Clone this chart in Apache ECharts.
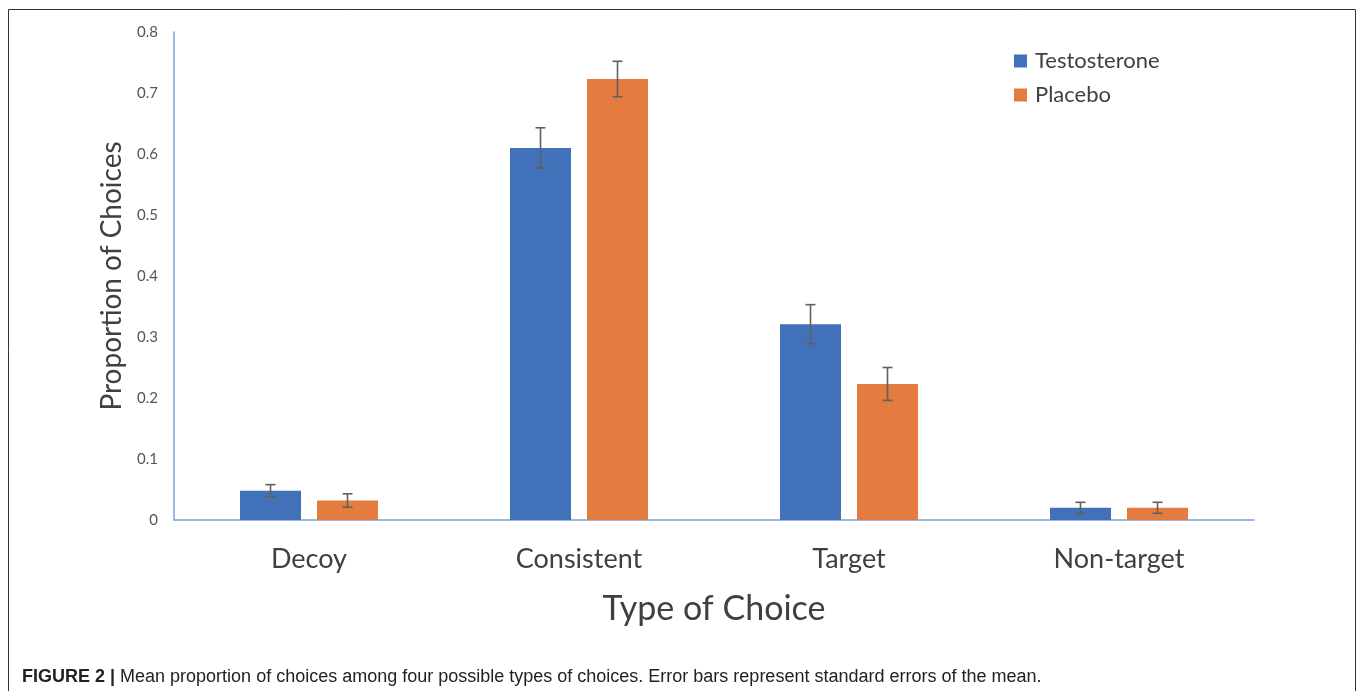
<!DOCTYPE html>
<html>
<head>
<meta charset="utf-8">
<script src="https://cdn.jsdelivr.net/npm/echarts@6/dist/echarts.min.js"></script>
<style>
  html, body { margin: 0; padding: 0; background: #fff; }
  #chart { width: 1360px; height: 691px; }
</style>
</head>
<body>
<div id="chart"></div>
<script>
// Choice types and group means with standard errors
const categories = ['Decoy', 'Consistent', 'Target', 'Non-target'];
const testosterone = [0.048, 0.610, 0.321, 0.020];
const placebo = [0.032, 0.723, 0.223, 0.020];
const testosteroneSE = [0.010, 0.033, 0.032, 0.009];
const placeboSE = [0.011, 0.029, 0.027, 0.009];
const seriesNames = ['Testosterone', 'Placebo'];

const BLUE = '#4171B9';
const ORANGE = '#E47B3F';
const AXIS = '#7E9FDB';
const TEXT = '#404040';
const FONT = 'Lato, "Open Sans", sans-serif';

const BAR_W = 61;
const BAR_GAP = 16;

function errorSeries(means, ses, side) {
  return {
    type: 'custom',
    z: 5,
    silent: true,
    data: means.map((m, i) => [i, m - ses[i], m + ses[i]]),
    renderItem: function (params, api) {
      const dx = side * (BAR_W + BAR_GAP) / 2;
      const lo = api.coord([api.value(0), api.value(1)]);
      const hi = api.coord([api.value(0), api.value(2)]);
      const x = lo[0] + dx;
      const cap = 5;
      const style = { stroke: '#606060', lineWidth: 1.6 };
      return {
        type: 'group',
        children: [
          { type: 'line', shape: { x1: x, y1: lo[1], x2: x, y2: hi[1] }, style: style },
          { type: 'line', shape: { x1: x - cap, y1: lo[1], x2: x + cap, y2: lo[1] }, style: style },
          { type: 'line', shape: { x1: x - cap, y1: hi[1], x2: x + cap, y2: hi[1] }, style: style }
        ]
      };
    }
  };
}

const chart = echarts.init(document.getElementById('chart'), null, { renderer: 'canvas' });
chart.setOption({
  animation: false,
  backgroundColor: '#fff',
  grid: { left: 174, right: 106, top: 32, bottom: 171, containLabel: false },
  legend: {
    orient: 'vertical',
    left: 1009,
    top: 45,
    itemWidth: 13,
    itemHeight: 13,
    itemGap: 12,
    icon: 'rect',
    data: seriesNames,
    textStyle: { fontFamily: FONT, fontSize: 22, color: TEXT, padding: [0, 0, 0, 3] }
  },
  xAxis: {
    type: 'category',
    data: categories,
    axisLine: { lineStyle: { color: AXIS, width: 1.5 } },
    axisTick: { show: false },
    axisLabel: { fontFamily: FONT, fontSize: 27, color: TEXT, margin: 26 },
    name: 'Type of Choice',
    nameLocation: 'middle',
    nameGap: 72,
    nameTextStyle: { fontFamily: FONT, fontSize: 34, color: TEXT }
  },
  yAxis: {
    type: 'value',
    min: 0,
    max: 0.8,
    interval: 0.1,
    splitLine: { show: false },
    axisLine: { show: true, lineStyle: { color: AXIS, width: 1.5 } },
    axisTick: { show: false },
    axisLabel: { fontFamily: FONT, fontSize: 15, color: '#555', margin: 16 },
    name: 'Proportion of Choices',
    nameLocation: 'middle',
    nameRotate: 90,
    nameGap: 44,
    nameTextStyle: { fontFamily: FONT, fontSize: 28, color: TEXT }
  },
  series: [
    {
      name: seriesNames[0], type: 'bar', data: testosterone,
      barWidth: BAR_W, barGap: (BAR_GAP / BAR_W * 100) + '%',
      itemStyle: { color: BLUE }
    },
    {
      name: seriesNames[1], type: 'bar', data: placebo,
      barWidth: BAR_W,
      itemStyle: { color: ORANGE }
    },
    errorSeries(testosterone, testosteroneSE, -1),
    errorSeries(placebo, placeboSE, 1)
  ],
  graphic: [
    {
      type: 'rect', silent: true,
      shape: { x: 8.5, y: 9.5, width: 1347, height: 700 },
      style: { fill: 'none', stroke: '#333', lineWidth: 1 }
    },
    {
      type: 'text', left: 22, top: 668, silent: true,
      style: {
        rich: {
          b: { fontFamily: '"Liberation Sans Narrow", "Liberation Sans", Arial, sans-serif', fontWeight: 'bold', fontSize: 18, fill: '#222' },
          n: { fontFamily: '"Liberation Sans Narrow", "Liberation Sans", Arial, sans-serif', fontSize: 18, fill: '#222' }
        },
        text: '{b|FIGURE 2 |}{n| Mean proportion of choices among four possible types of choices. Error bars represent standard errors of the mean.}'
      }
    }
  ]
});
</script>
</body>
</html>
